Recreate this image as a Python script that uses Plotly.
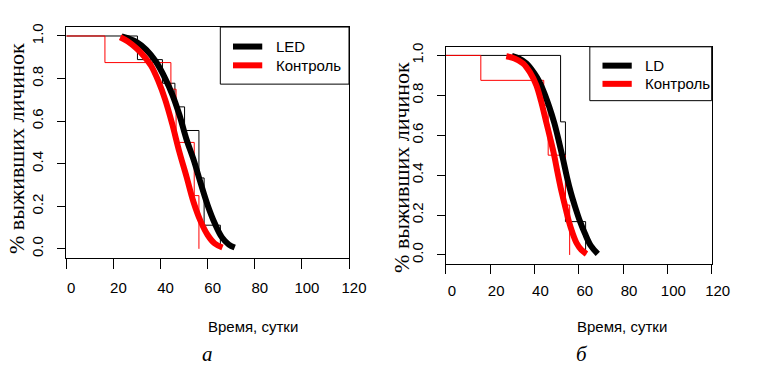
import plotly.graph_objects as go

# ---- Kaplan-Meier step data (time in days, proportion surviving) ----
led_t = [0, 30.2, 40.8, 46.1, 50.2, 56.3, 58.5, 65.4]
led_s = [1.0, 0.889, 0.778, 0.667, 0.556, 0.333, 0.111, 0.0]

ctrl_a_t = [0, 16.4, 44.4, 46.6, 54.3, 56.3]
ctrl_a_s = [1.0, 0.875, 0.75, 0.5, 0.25, 0.0]

ld_t = [0, 51.8, 54.0, 63.1]
ld_s = [1.0, 0.667, 0.167, 0.0]

ctrl_b_t = [0, 15.8, 44.2, 46.2, 54.0, 55.9]
ctrl_b_s = [1.0, 0.875, 0.75, 0.5, 0.25, 0.0]

# ---- fitted survival curves ----
led_fit_t = [23.5, 26, 30, 34, 38, 42, 45, 48, 51, 54, 57, 60, 63, 66, 69, 71.5]
led_fit_s = [0.998, 0.99, 0.97, 0.935, 0.88, 0.80, 0.725, 0.63, 0.515, 0.42, 0.31,
             0.205, 0.12, 0.055, 0.02, 0.006]

ctrl_a_fit_t = [22.9, 26, 30, 33, 36, 39, 42, 45, 48, 51, 54, 57, 60, 63, 66.3]
ctrl_a_fit_s = [0.994, 0.975, 0.94, 0.905, 0.86, 0.79, 0.70, 0.585, 0.455, 0.34,
                0.22, 0.13, 0.065, 0.025, 0.006]

ld_fit_t = [29.8, 33, 36.4, 40, 42.2, 44.5, 46.6, 49, 51, 53, 54.7, 56.5, 58.4,
            60.5, 62.8, 65.5, 68.6]
ld_fit_s = [0.998, 0.985, 0.96, 0.91, 0.869, 0.81, 0.745, 0.66, 0.571, 0.475,
            0.389, 0.31, 0.24, 0.17, 0.107, 0.045, 0.005]

ctrl_b_fit_t = [27.3, 31, 34.9, 38, 40.8, 43, 45.2, 47, 48.8, 50.3, 51.8, 53.6,
                55.4, 57.2, 59.1, 61.2, 63.5]
ctrl_b_fit_s = [0.996, 0.985, 0.96, 0.915, 0.852, 0.77, 0.671, 0.59, 0.505, 0.42,
                0.339, 0.255, 0.174, 0.11, 0.058, 0.025, 0.005]

x_ticks = [0, 20, 40, 60, 80, 100, 120]
y_ticks = [0.0, 0.2, 0.4, 0.6, 0.8, 1.0]
y_tick_text = ["0.0", "0.2", "0.4", "0.6", "0.8", "1.0"]

names_a = ["LED", "Контроль"]
names_b = ["LD", "Контроль"]
y_title = "% выживших личинок"
x_title = "Время, сутки"
captions = ["а", "б"]

W, H = 757, 376
BLACK = "#000000"
RED = "#ff0000"
SANS = "Liberation Sans, Arial, sans-serif"
SERIF = "Liberation Serif, Times New Roman, serif"


def px_x(p):
    return p / W


def px_y(p):
    return 1 - p / H


fig = go.Figure()

panels = [
    dict(xa="x", ya="y",
         steps=[(led_t, led_s, BLACK), (ctrl_a_t, ctrl_a_s, RED)],
         fits=[(led_fit_t, led_fit_s, BLACK), (ctrl_a_fit_t, ctrl_a_fit_s, RED)]),
    dict(xa="x2", ya="y2",
         steps=[(ld_t, ld_s, BLACK), (ctrl_b_t, ctrl_b_s, RED)],
         fits=[(ld_fit_t, ld_fit_s, BLACK), (ctrl_b_fit_t, ctrl_b_fit_s, RED)]),
]

for p in panels:
    for t, s, c in p["steps"]:
        fig.add_trace(go.Scatter(
            x=t, y=s, mode="lines", line=dict(color=c, width=1, shape="hv"),
            xaxis=p["xa"], yaxis=p["ya"], showlegend=False, hoverinfo="skip"))
    for t, s, c in p["fits"]:
        fig.add_trace(go.Scatter(
            x=t, y=s, mode="lines",
            line=dict(color=c, width=6, shape="spline", smoothing=1.0),
            xaxis=p["xa"], yaxis=p["ya"], showlegend=False))

axis_common = dict(
    showgrid=False, zeroline=False, showline=True, mirror=True,
    linecolor=BLACK, linewidth=1, ticks="outside", tickcolor=BLACK,
    tickwidth=1, tickfont=dict(family=SANS, size=15, color=BLACK),
)

fig.update_layout(
    width=W, height=H,
    margin=dict(l=0, r=0, t=0, b=0),
    paper_bgcolor="white", plot_bgcolor="white",
    showlegend=False,
    xaxis=dict(domain=[px_x(68), px_x(358)], range=[0, 120], tickvals=x_ticks,
               ticklen=10, anchor="y", ticklabelshift=5, ticklabelstandoff=6,
               **axis_common),
    yaxis=dict(domain=[px_y(256.5), px_y(23.3)], range=[-0.042, 1.042],
               tickvals=y_ticks, ticktext=y_tick_text, tickangle=-90,
               ticklen=8, anchor="x", ticklabelstandoff=8, **axis_common),
    xaxis2=dict(domain=[px_x(457.3), px_x(730)], range=[0, 120], tickvals=x_ticks,
                ticklen=9, anchor="y2", ticklabelshift=6, ticklabelstandoff=4,
                **axis_common),
    yaxis2=dict(domain=[px_y(262.3), px_y(43.3)], range=[-0.043, 1.043],
                tickvals=y_ticks, ticktext=y_tick_text, tickangle=-90,
                ticklen=8, anchor="x2", ticklabelstandoff=8, **axis_common),
)

# legend boxes: (box left, box right, box top, box bottom, first row y, row step)
legend_boxes = [
    (226, 358, 23.3, 81, 43, 19, names_a),
    (605, 730, 43.3, 97.7, 62.3, 18.4, names_b),
]
for x0, x1, y0, y1, row0, step, names in legend_boxes:
    fig.add_shape(type="rect", xref="paper", yref="paper",
                  x0=px_x(x0), x1=px_x(x1), y0=px_y(y1), y1=px_y(y0),
                  line=dict(color=BLACK, width=1), fillcolor="white", layer="above")
    for i, (name, col) in enumerate(zip(names, [BLACK, RED])):
        yy = row0 + i * step
        fig.add_shape(type="line", xref="paper", yref="paper",
                      x0=px_x(x0 + 13), x1=px_x(x0 + 43), y0=px_y(yy), y1=px_y(yy),
                      line=dict(color=col, width=6), layer="above")
        fig.add_annotation(x=px_x(x0 + 55), y=px_y(yy), xref="paper", yref="paper",
                           xanchor="left", yanchor="middle", text=name,
                           showarrow=False,
                           font=dict(family=SANS, size=15, color=BLACK))

# axis titles and panel captions
for x, y in [(17, 146), (412, 165)]:
    fig.add_annotation(x=px_x(x), y=px_y(y), xref="paper", yref="paper",
                       xanchor="center", yanchor="middle",
                       text=y_title, textangle=-90, showarrow=False,
                       font=dict(family=SERIF, size=22, color=BLACK))
for x, y in [(260, 326), (638, 326)]:
    fig.add_annotation(x=px_x(x), y=px_y(y), xref="paper", yref="paper",
                       xanchor="center", yanchor="middle",
                       text=x_title, showarrow=False,
                       font=dict(family=SANS, size=15, color=BLACK))
for (x, y), cap in zip([(213, 354), (597, 354)], captions):
    fig.add_annotation(x=px_x(x), y=px_y(y), xref="paper", yref="paper",
                       xanchor="center", yanchor="middle",
                       text=f"<i>{cap}</i>", showarrow=False,
                       font=dict(family=SERIF, size=21, color=BLACK))

fig.write_html("out.html")
